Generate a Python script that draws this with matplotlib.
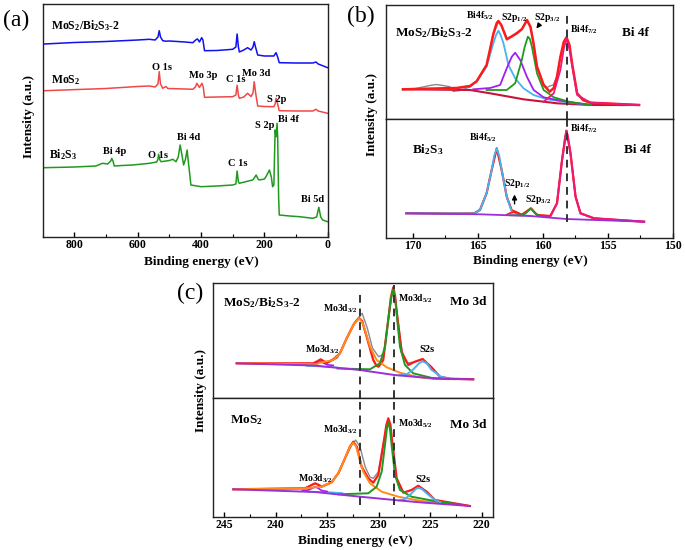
import numpy as np
import matplotlib.pyplot as plt

plt.rcParams['font.family'] = 'Liberation Serif'
plt.rcParams['font.weight'] = 'bold'
plt.rcParams['mathtext.fontset'] = 'custom'
plt.rcParams['mathtext.rm'] = 'Liberation Serif:bold'
plt.rcParams['mathtext.bf'] = 'Liberation Serif:bold'
plt.rcParams['mathtext.default'] = 'bf'

# ---------------- (a) survey spectra ----------------
comp_x = [895, 800, 700, 600, 563, 545, 536, 532, 528, 521, 511, 500, 450, 426, 415, 411, 405,
          398, 394, 389, 350, 300, 290, 286, 282, 279, 265, 253, 242, 236, 232, 228, 221, 200,
          170, 166, 163, 158, 153, 100, 47, 37, 30, 0]
comp_y = [193, 194.5, 195.5, 197, 197.7, 197, 200, 206.3, 200, 196.3, 195.8, 196, 195, 194.3,
          197.5, 198, 195, 199.3, 197, 186.3, 186.5, 187.7, 190, 203, 190, 185, 187, 189.3, 187,
          190, 195.3, 190, 182, 181, 181, 183, 184.3, 180, 174.3, 174, 174, 175, 173, 169.3]

mos2_x = [895, 700, 600, 563, 545, 536, 532, 528, 521, 511, 505, 450, 426, 418, 413, 405, 397,
          393, 389, 350, 300, 290, 286, 282, 279, 265, 253, 242, 236, 232, 228, 221, 200, 170,
          166, 163, 158, 153, 100, 47, 37, 30, 0]
mos2_y = [146.3, 148.5, 150.5, 151, 150, 153, 165.3, 153, 148.7, 150.5, 148.5, 148, 147.7, 150,
          153.7, 149.5, 153.7, 150, 139.7, 140, 140.3, 142, 151.7, 142, 138.7, 140, 143.7, 140.5,
          144, 155.3, 145, 131, 130.5, 130.3, 133, 138.7, 133, 126.3, 126, 126, 127.7, 126, 123.7]

bis_x = [895, 800, 732, 711, 695, 685, 682, 678, 674, 650, 616, 600, 563, 540, 536, 534, 530,
         526, 500, 489, 479, 472, 466, 462, 455, 449, 444, 440, 432, 400, 350, 300, 290, 286,
         282, 279, 250, 237, 232, 226, 220, 216, 200, 195, 184, 178, 174, 170, 166, 163, 160,
         158, 155, 153, 120, 89, 47, 35, 28, 22, 16, 0]
bis_y = [69.3, 70, 71, 73.7, 73, 76, 78.7, 76, 71, 71.5, 72, 72.5, 73.7, 75, 78, 82.7, 77, 75.3,
         76.5, 77.7, 75.3, 80, 92, 85, 72, 78, 87, 75, 52, 50.3, 51, 52, 53, 66, 55, 53.7, 56,
         57, 59, 62, 58, 57, 58, 60.3, 67, 60, 50.3, 52, 107, 100.3, 113.7, 100, 40, 22, 21,
         20.3, 18.7, 20, 29.7, 20, 17, 15.3]

a_labels = ['MoS$_2$/Bi$_2$S$_3$-2', 'MoS$_2$', 'Bi$_2$S$_3$', 'O 1s', 'Mo 3p', 'C 1s', 'Mo 3d',
            'S 2p', 'S 2p', 'Bi 4f', 'Bi 4d', 'O 1s', 'Bi 4p', 'C 1s', 'Bi 5d']
a_label_x = [875, 875, 880, 523, 392, 291, 226, 160, 200, 125, 439, 536, 674, 285, 47]
a_label_y = [211, 157, 82, 169, 162, 157, 164, 137, 111, 118, 100, 82, 85, 74, 37]

# ---------------- (b) Bi 4f, MoS2/Bi2S3-2 ----------------
bt_raw_x = [170.77, 169.8, 169.23, 168.7, 168.19, 167.7, 167.16, 166.9, 166.4, 165.61, 165.1,
            164.33, 163.81, 163.42, 163.2, 162.77, 162.4, 162.0, 161.6, 161.22, 160.95, 160.71,
            160.45, 159.94, 159.68, 159.47, 159.2, 158.91, 158.65, 158.39, 158.18, 157.95,
            157.75, 157.36, 156.9, 156.32, 155.0, 154.0, 152.59]
bt_raw_y = [29.7, 30.5, 32, 33.5, 34.5, 33.5, 32.3, 27.5, 28.5, 32, 37.7, 54, 85, 97, 94, 80.5,
            83, 86.5, 90, 98.5, 92, 76, 53, 35, 31.5, 33, 34, 42.3, 62, 77, 81.7, 74, 55.7, 25,
            18.5, 15.5, 14.5, 13.5, 14]
bt_bg_x = [170.77, 165.61, 164.06, 161.49, 158.91, 156.32, 152.59]
bt_bg_y = [29.7, 29, 25.7, 19.7, 15.7, 14, 14]
bt_blue_x = [170.77, 166.65, 165.61, 165.10, 164.33, 163.81, 163.6, 163.42, 163.25, 163.03,
             162.65, 162.13, 161.49, 160.71, 159.68, 158.39, 156.32]
bt_blue_y = [29.7, 30.7, 33, 37.3, 52.3, 75.7, 84, 88.3, 84, 75.7, 54, 40.7, 30.7, 24, 19.7,
             17.3, 14]
bt_purple_x = [165.36, 164.06, 163.29, 162.78, 162.39, 162.13, 161.74, 161.23, 160.71, 159.94,
               158.91, 157.5, 156.3]
bt_purple_y = [29.7, 31, 34, 50.7, 62.3, 66.3, 59, 42.3, 29, 21.7, 19, 16, 14]
bt_green_x = [164.33, 162.78, 162.13, 161.62, 161.4, 161.15, 161.0, 160.84, 160.45, 159.94,
              159.16, 158.0, 156.3]
bt_green_y = [29, 29, 35.7, 59, 72, 82.3, 80, 72.3, 45.7, 29, 21.7, 17.3, 14]
bt_pink_x = [159.94, 159.16, 158.65, 158.39, 158.18, 157.95, 157.75, 157.36, 156.32, 152.59]
bt_pink_y = [17.3, 25.7, 49, 70, 80.7, 70, 54, 24, 16.3, 14]
bt_fit_x = [170.77, 166.65, 165.61, 165.10, 164.33, 163.81, 163.55, 163.42, 163.2, 162.77,
            162.4, 162.0, 161.6, 161.22, 160.95, 160.71, 160.45, 159.94, 159.47, 159.16, 158.91,
            158.65, 158.39, 158.18, 157.95, 157.75, 157.36, 156.9, 156.32, 152.59]
bt_fit_y = [29.7, 31, 33, 37.7, 54, 85, 96, 98, 94, 79.7, 82.5, 85.7, 90, 99, 92, 75, 52.3, 34,
            27.3, 31, 42.3, 62, 77, 81.7, 74, 55.7, 25.7, 19, 16.3, 14]

# ---------------- (b) Bi 4f, Bi2S3 ----------------
bb_bg_x = [170.52, 164.84, 160.97, 158.18, 152.2]
bb_bg_y = [24.7, 23.7, 22, 19, 16.3]
bb_raw_x = [170.52, 167.0, 165.3, 164.84, 164.33, 163.94, 163.55, 163.17, 162.78, 162.39,
            162.2, 161.74, 160.92, 160.45, 159.42, 158.91, 158.52, 158.18, 157.87, 157.48,
            157.1, 156.07, 152.2]
bb_raw_y = [24.7, 24.2, 25, 28.5, 45, 68, 89.7, 68, 41.3, 27, 26.5, 23, 29.5, 23, 22, 34.7,
            78, 107.3, 84.7, 41.3, 24.7, 19.7, 16.3]
bb_blue_x = [170.52, 165.3, 164.84, 164.33, 163.94, 163.75, 163.55, 163.35, 163.17, 162.78,
             162.39, 161.74, 160.9]
bb_blue_y = [24.7, 24.5, 28, 44.7, 68, 82, 89.7, 82, 68, 41.3, 26.3, 23, 22]
bb_red_x = [162.8, 162.5, 162.2, 161.9, 161.6]
bb_red_y = [23.2, 25, 26, 24.8, 22.8]
bb_green_x = [162.5, 161.6, 161.3, 160.92, 160.6, 160.3]
bb_green_y = [22.8, 22.6, 25, 29.5, 25, 22.4]
bb_pink_x = [159.9, 159.42, 158.91, 158.52, 158.3, 158.18, 158.05, 157.87, 157.48, 157.1,
             156.07, 152.2]
bb_pink_y = [21.5, 22, 34.7, 78, 100, 107.3, 100, 84.7, 41.3, 24.7, 19.7, 16.3]
bb_fit_x = [170.52, 165.3, 164.84, 164.33, 163.94, 163.55, 163.17, 162.78, 162.39, 162.26,
            161.9, 161.62, 160.92, 160.45, 159.42, 158.91, 158.52, 158.18, 157.87, 157.48,
            157.1, 156.07, 152.2]
bb_fit_y = [24.7, 24.5, 28, 44.7, 68, 89.7, 68, 41.3, 27.5, 27, 25, 23, 29.7, 23, 22, 34.7, 78,
            107.3, 84.7, 41.3, 24.7, 19.7, 16.3]

# ---------------- (c) Mo 3d, MoS2/Bi2S3-2 ----------------
ct_raw_x = [243.77, 238, 236.3, 235.6, 235, 234, 233.1, 232.3, 231.6, 231.1, 230.6, 230.0,
            229.5, 229.1, 228.6, 228.2, 227.8, 227.6, 227.2, 226.5, 225.7, 224.9, 224.0, 223,
            220.8]
ct_raw_y = [34.7, 33.5, 34, 37.5, 35, 40, 59, 76, 84.7, 70, 50, 41.3, 44, 75, 110, 85, 52, 40,
            35, 36, 38.5, 30, 21, 19, 18.5]
ct_bg_x = [243.77, 236.3, 231.81, 228.48, 225.7, 223.08, 220.82]
ct_bg_y = [34.7, 32.5, 28, 23, 20.5, 19, 18.7]
ct_orange_x = [243.77, 236.0, 235.69, 234.4, 233.75, 233.1, 232.4, 231.91, 231.6, 231.32,
               230.84, 230.19, 229.22, 227.93, 226.31, 224.7, 222.5]
ct_orange_y = [34.7, 33.8, 35.3, 38, 44.7, 59.7, 74, 79.7, 76, 68, 51.3, 38, 30.7, 25.3, 21.3,
               19, 18.8]
ct_green_x = [234.0, 230.84, 229.87, 229.38, 229.07, 228.8, 228.58, 228.4, 228.19, 227.93,
              227.44, 226.64, 224.7, 222.5]
ct_green_y = [29.5, 28.7, 34.7, 51.3, 78, 100, 108.7, 100, 78, 51.3, 33, 24.7, 19.7, 19]
ct_blue_x = [228.0, 227.28, 226.64, 226.1, 225.73, 225.3, 224.86, 224.37, 224.05, 223.4]
ct_blue_y = [22.8, 23.5, 28.5, 34.5, 36.8, 34.5, 28, 24.7, 21.5, 20]
ct_small_x = [236.8, 236.2, 235.9, 235.63, 235.35, 235.0, 234.4]
ct_small_y = [33.2, 33.5, 35, 36.3, 35, 33.2, 32.6]
ct_cyan_x = [237.0, 235.6, 234.0]
ct_cyan_y = [32.0, 31.5, 30.5]
ct_fit_x = [243.77, 236.34, 235.9, 235.63, 235.35, 235.04, 234.4, 233.75, 233.1, 232.4, 231.91,
            231.6, 231.16, 230.52, 230.19, 230.0, 229.55, 229.07, 228.8, 228.58, 228.4, 228.19,
            227.77, 227.12, 226.48, 225.73, 224.86, 224.05, 223.08, 220.82]
ct_fit_y = [34.7, 34.7, 37, 38.7, 37, 35, 38.7, 44.7, 59.7, 74, 80, 77, 61.3, 38, 32, 31.3, 38,
            78, 101, 110.7, 102, 81.3, 46.3, 33, 36.3, 39, 30.7, 21.3, 19.3, 18.7]

# ---------------- (c) Mo 3d, MoS2 ----------------
cb_raw_x = [244.1, 237.14, 236.17, 235.53, 234.56, 233.91, 233.26, 232.6, 232.23, 231.8,
            231.3, 230.84, 230.52, 230.03, 229.55, 229.06, 228.68, 228.25, 227.6, 226.8, 226.15,
            225.34, 224.53, 221.14]
cb_raw_y = [27.7, 28.7, 33.5, 30.5, 34.7, 43.7, 58.7, 72, 77, 70, 50, 40, 38.7, 45, 73, 98, 75,
            38.7, 24.5, 27, 31, 25.3, 17, 11]
cb_bg_x = [244.1, 236.17, 231.81, 228.48, 225.8, 221.14]
cb_bg_y = [27.7, 25, 20.3, 17, 14.5, 11]
cb_orange_x = [244.1, 237.14, 235.53, 234.56, 233.91, 233.26, 232.8, 232.46, 232.2, 231.97,
               231.49, 230.84, 229.7, 228.09, 225.83, 223.5]
cb_orange_y = [27.7, 28.7, 30.3, 34.7, 43.7, 58.7, 70, 74.3, 71, 62, 45.3, 33.7, 25.3, 20.3,
               16, 14]
cb_green_x = [233.91, 231.0, 230.19, 229.7, 229.38, 229.2, 229.06, 228.9, 228.74, 228.41,
              227.93, 226.8, 224.21, 222.5]
cb_green_y = [22.7, 23.7, 30.3, 45.3, 72, 88, 95.3, 88, 72, 42, 27, 20.3, 15.3, 13]
cb_blue_x = [228.0, 227.44, 226.8, 226.4, 226.15, 225.8, 225.34, 224.53, 224.0]
cb_blue_y = [16.5, 18, 23.7, 28, 29.3, 28, 23.7, 17, 14.8]
cb_small_x = [237.4, 236.8, 236.4, 236.17, 235.9, 235.53, 235.0]
cb_small_y = [26.5, 27, 29, 30.3, 29, 26.5, 25.5]
cb_cyan_x = [237.0, 235.0, 233.5]
cb_cyan_y = [25.5, 25.0, 24.0]
cb_fit_x = [244.1, 237.14, 236.6, 236.17, 235.8, 235.53, 234.56, 233.91, 233.26, 232.8, 232.46,
            232.1, 231.65, 231.0, 230.52, 230.03, 229.55, 229.25, 229.06, 228.85, 228.68,
            228.25, 227.6, 226.8, 226.15, 225.34, 224.53, 221.14]
cb_fit_y = [27.7, 28.7, 31.5, 33.7, 32, 30.3, 34.7, 43.7, 58.7, 70, 75.3, 70, 50.3, 38.7, 34.3,
            42, 72, 92, 98.7, 92, 75.3, 38.7, 24.3, 27, 31.3, 25.3, 17, 11]

W, H = 685, 550
fig = plt.figure(figsize=(6.85, 5.5), dpi=100)


def box(l, t, r, b):
    # axes rectangle from pixel edges
    return [l / W, 1 - b / H, (r - l) / W, (b - t) / H]


def style(ax, major, minor, show_x=True):
    ax.set_yticks([])
    ax.tick_params(axis='x', direction='in', length=3.5, width=1, labelsize=8.5, pad=1.5)
    ax.tick_params(axis='x', which='minor', direction='in', length=2, width=0.8)
    ax.set_xticks(major)
    ax.set_xticks(minor, minor=True)
    if not show_x:
        ax.tick_params(axis='x', which='both', bottom=False, labelbottom=False)
    for s in ax.spines.values():
        s.set_linewidth(1.0)
        s.set_color('#222222')


# (a)
ax = fig.add_axes(box(42.7, 4, 327.7, 237))
ax.plot(comp_x, comp_y, color='#1010f0', lw=1.1)
ax.plot(mos2_x, mos2_y, color='#f04848', lw=1.1)
ax.plot(bis_x, bis_y, color='#1f9a1f', lw=1.1)
ax.set_xlim(900, 0)
ax.set_ylim(0, 233)
style(ax, [800, 600, 400, 200, 0], [900, 700, 500, 300, 100])
for i in range(len(a_labels)):
    fs = 8.5 if i < 3 else 7.5
    ha = 'left' if i < 3 else 'center'
    ax.text(a_label_x[i], a_label_y[i], a_labels[i], fontsize=fs, ha=ha, va='center',
            fontweight='bold')
fig.text(3 / W, 1 - 20 / H, '(a)', fontsize=17, fontweight='normal', va='center')
fig.text(29 / W, 1 - 117 / H, 'Intensity (a.u.)', rotation=90, fontsize=9.5, ha='center',
         va='center')
fig.text(201.7 / W, 1 - 261.5 / H, 'Binding energy (eV)', fontsize=9.5, ha='center',
         va='center')

# (b)
b_major = [170, 165, 160, 155, 150]
b_minor = [167.5, 162.5, 157.5, 152.5]
ax1 = fig.add_axes(box(385.7, 5, 672.7, 119))
ax1.plot(bt_raw_x, bt_raw_y, color='#8a8a8a', lw=1.0)
ax1.plot(bt_bg_x, bt_bg_y, color='#c8143c', lw=1.5)
ax1.plot(bt_blue_x, bt_blue_y, color='#45b4f0', lw=1.3)
ax1.plot(bt_purple_x, bt_purple_y, color='#a020f0', lw=1.3)
ax1.plot(bt_green_x, bt_green_y, color='#1f9a1f', lw=1.3)
ax1.plot(bt_fit_x, bt_fit_y, color='#ff1a1a', lw=1.8)
ax1.plot(bt_pink_x, bt_pink_y, color='#ee1a78', lw=1.3)
ax1.axvline(158.15, ymin=0, ymax=0.93, color='#333333', lw=1.4, dashes=(4, 3))
ax1.set_xlim(172.1, 150)
ax1.set_ylim(0, 114)
style(ax1, b_major, b_minor, show_x=False)
ax1.text(171.4, 86, 'MoS$_2$/Bi$_2$S$_3$-2', fontsize=9.5, va='center')
ax1.text(152.9, 86, 'Bi 4f', fontsize=9.5, ha='center', va='center')
ax1.text(164.84, 103, 'Bi4f$_{5/2}$', fontsize=7, ha='center', va='center')
ax1.text(162.25, 102, 'S2p$_{1/2}$', fontsize=7, ha='center', va='center')
ax1.text(159.7, 101, 'S2p$_{3/2}$', fontsize=7, ha='center', va='center')
ax1.text(157.9, 89.7, 'Bi4f$_{7/2}$', fontsize=7, ha='left', va='center')
ax1.annotate('', xy=(160.63, 88.3), xytext=(160.19, 95.7),
             arrowprops=dict(arrowstyle='-|>', color='k', lw=1.0, mutation_scale=7))

ax2 = fig.add_axes(box(385.7, 119, 672.7, 238))
ax2.plot(bb_raw_x, bb_raw_y, color='#8a8a8a', lw=1.0)
ax2.plot(bb_fit_x, bb_fit_y, color='#ff1a1a', lw=1.6)
ax2.plot(bb_blue_x, bb_blue_y, color='#45b4f0', lw=1.3)
ax2.plot(bb_red_x, bb_red_y, color='#ff1a1a', lw=1.3)
ax2.plot(bb_green_x, bb_green_y, color='#1f9a1f', lw=1.3)
ax2.plot(bb_pink_x, bb_pink_y, color='#ee1a78', lw=1.4)
ax2.plot(bb_bg_x, bb_bg_y, color='#9a30d8', lw=1.3)
ax2.axvline(158.15, ymin=0.137, ymax=1, color='#333333', lw=1.4, dashes=(4, 3))
ax2.set_xlim(172.1, 150)
ax2.set_ylim(0, 119)
style(ax2, b_major, b_minor)
ax2.text(170.1, 88, 'Bi$_2$S$_3$', fontsize=9.5, va='center')
ax2.text(152.7, 88, 'Bi 4f', fontsize=9.5, ha='center', va='center')
ax2.text(164.64, 100.7, 'Bi4f$_{5/2}$', fontsize=7, ha='center', va='center')
ax2.text(157.93, 109.7, 'Bi4f$_{7/2}$', fontsize=7, ha='left', va='center')
ax2.text(161.97, 54, 'S2p$_{1/2}$', fontsize=7, ha='center', va='center')
ax2.text(160.33, 38.7, 'S2p$_{3/2}$', fontsize=7, ha='center', va='center')
ax2.annotate('', xy=(162.18, 46.3), xytext=(162.18, 31.3),
             arrowprops=dict(arrowstyle='-|>', color='k', lw=1.0, mutation_scale=7))
fig.text(347 / W, 1 - 16 / H, '(b)', fontsize=17, fontweight='normal', va='center')
fig.text(372 / W, 1 - 114 / H, 'Intensity (a.u.)', rotation=90, fontsize=9.5, ha='center',
         va='center')
fig.text(530.7 / W, 1 - 261 / H, 'Binding energy (eV)', fontsize=9.5, ha='center',
         va='center')

# (c)
c_major = [245, 240, 235, 230, 225, 220]
c_minor = [242.5, 237.5, 232.5, 227.5, 222.5]
ax3 = fig.add_axes(box(212.7, 283, 493, 398))
ax3.plot(ct_raw_x, ct_raw_y, color='#8a8a8a', lw=1.0)
ax3.plot(ct_fit_x, ct_fit_y, color='#ff1a1a', lw=1.6)
ax3.plot(ct_cyan_x, ct_cyan_y, color='#45b4f0', lw=1.1)
ax3.plot(ct_small_x, ct_small_y, color='#a020f0', lw=1.2)
ax3.plot(ct_orange_x, ct_orange_y, color='#ff8c1a', lw=1.4)
ax3.plot(ct_green_x, ct_green_y, color='#1f9a1f', lw=1.4)
ax3.plot(ct_blue_x, ct_blue_y, color='#45b4f0', lw=1.4)
ax3.plot(ct_bg_x, ct_bg_y, color='#9a30d8', lw=1.4)
ax3.axvline(231.81, ymin=0, ymax=0.93, color='#333333', lw=1.4, dashes=(4, 3))
ax3.axvline(228.48, ymin=0, ymax=0.98, color='#333333', lw=1.4, dashes=(4, 3))
ax3.set_xlim(246.1, 218.9)
ax3.set_ylim(0, 115)
style(ax3, c_major, c_minor, show_x=False)
ax3.text(245.07, 95.7, 'MoS$_2$/Bi$_2$S$_3$-2', fontsize=9.5, va='center')
ax3.text(221.3, 95.7, 'Mo 3d', fontsize=9.5, ha='center', va='center')
ax3.text(233.75, 89.7, 'Mo3d$_{3/2}$', fontsize=7, ha='center', va='center')
ax3.text(226.47, 99.7, 'Mo3d$_{5/2}$', fontsize=7, ha='center', va='center')
ax3.text(235.45, 48, 'Mo3d$_{3/2}$', fontsize=7, ha='center', va='center')
ax3.text(225.34, 48, 'S2s', fontsize=7.5, ha='center', va='center')

ax4 = fig.add_axes(box(212.7, 398, 493, 517))
ax4.plot(cb_raw_x, cb_raw_y, color='#8a8a8a', lw=1.0)
ax4.plot(cb_fit_x, cb_fit_y, color='#ff1a1a', lw=1.6)
ax4.plot(cb_cyan_x, cb_cyan_y, color='#45b4f0', lw=1.1)
ax4.plot(cb_small_x, cb_small_y, color='#a020f0', lw=1.2)
ax4.plot(cb_orange_x, cb_orange_y, color='#ff8c1a', lw=1.4)
ax4.plot(cb_green_x, cb_green_y, color='#1f9a1f', lw=1.4)
ax4.plot(cb_blue_x, cb_blue_y, color='#45b4f0', lw=1.4)
ax4.plot(cb_bg_x, cb_bg_y, color='#9a30d8', lw=1.4)
ax4.axvline(231.81, ymin=0.1, ymax=1, color='#333333', lw=1.4, dashes=(4, 3))
ax4.axvline(228.48, ymin=0.1, ymax=1, color='#333333', lw=1.4, dashes=(4, 3))
ax4.set_xlim(246.1, 218.9)
ax4.set_ylim(0, 119)
style(ax4, c_major, c_minor)
ax4.text(244.42, 97, 'MoS$_2$', fontsize=9.5, va='center')
ax4.text(221.3, 92, 'Mo 3d', fontsize=9.5, ha='center', va='center')
ax4.text(233.75, 87, 'Mo3d$_{3/2}$', fontsize=7, ha='center', va='center')
ax4.text(226.47, 93.7, 'Mo3d$_{5/2}$', fontsize=7, ha='center', va='center')
ax4.text(236.12, 38.7, 'Mo3d$_{3/2}$', fontsize=7, ha='center', va='center')
ax4.text(225.67, 37.7, 'S2s', fontsize=7.5, ha='center', va='center')
fig.text(177 / W, 1 - 293 / H, '(c)', fontsize=17, fontweight='normal', va='center')
fig.text(201 / W, 1 - 391 / H, 'Intensity (a.u.)', rotation=90, fontsize=9.5, ha='center',
         va='center')
fig.text(355.7 / W, 1 - 541 / H, 'Binding energy (eV)', fontsize=9.5, ha='center',
         va='center')

fig.savefig('out.png', dpi=100)
